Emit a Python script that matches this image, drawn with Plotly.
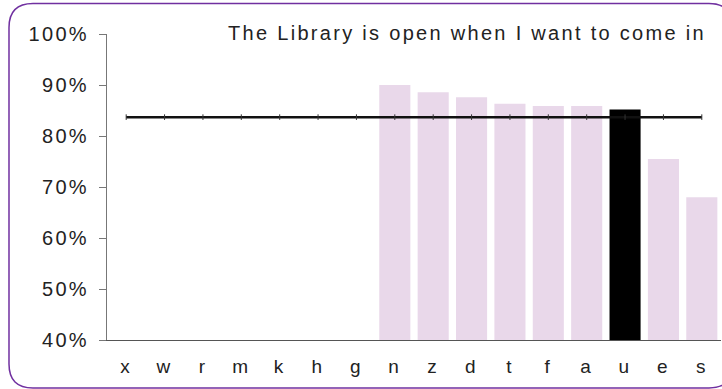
import plotly.graph_objects as go

# Survey item: share of positive responses per library branch
categories = ["x", "w", "r", "m", "k", "h", "g", "n", "z", "d", "t", "f", "a", "u", "e", "s"]
scores = [None, None, None, None, None, None, None,
          0.900, 0.886, 0.876, 0.863, 0.859, 0.859, 0.852, 0.755, 0.680]
highlight = "u"
benchmark = 0.837
y_ticks = [0.4, 0.5, 0.6, 0.7, 0.8, 0.9, 1.0]
title_text = "The Library is open when I want to come in"

W, H = 722, 389
L, R, T, B = 107, 1, 34, 49
PW, PH = W - L - R, H - T - B

FONT = "Liberation Sans, Arial, sans-serif"
TXT = "#222222"
PINK = "#e9d8ea"


def spaced(s, ls=2.3):
    return f'<span style="letter-spacing:{ls}px">{s}</span>'


def px(x):
    return (x - L) / PW


def py(y):
    return (T + PH - y) / PH


bar_colors = ["#000000" if c == highlight else PINK for c in categories]

fig = go.Figure()
fig.add_trace(go.Bar(
    x=categories, y=scores, marker=dict(color=bar_colors, line=dict(width=0)),
    hoverinfo="skip",
))
fig.add_trace(go.Scatter(
    x=categories, y=[benchmark] * len(categories), mode="lines+markers",
    line=dict(color="#111111", width=2.5),
    marker=dict(symbol="line-ns", size=4, line=dict(color="#333333", width=1)),
    hoverinfo="skip",
))

# rounded frame around the whole chart
left, top, right, bottom, rad = 9, 3.5, 733, 388, 24
pts = [
    ("M", (left + rad, top)), ("L", (right - rad, top)),
    ("Q", (right, top), (right, top + rad)), ("L", (right, bottom - rad)),
    ("Q", (right, bottom), (right - rad, bottom)), ("L", (left + rad, bottom)),
    ("Q", (left, bottom), (left, bottom - rad)), ("L", (left, top + rad)),
    ("Q", (left, top), (left + rad, top)),
]
path = ""
for cmd, *coords in pts:
    path += cmd + " " + " ".join(f"{px(a):.5f},{py(b):.5f}" for a, b in coords) + " "
path += "Z"

fig.update_layout(
    width=W, height=H,
    margin=dict(l=L, r=R, t=T, b=B, pad=0),
    paper_bgcolor="white", plot_bgcolor="white",
    showlegend=False, hovermode=False,
    bargap=0.19,
    font=dict(family=FONT, size=20, color=TXT),
    xaxis=dict(
        type="category", range=[-0.5, len(categories) - 0.5],
        showline=True, linecolor="#555555", linewidth=1,
        ticks="", showgrid=False, zeroline=False,
        tickvals=categories, ticktext=[spaced(c) for c in categories],
        tickfont=dict(family=FONT, size=19, color=TXT),
        ticklabelstandoff=9,
    ),
    yaxis=dict(
        range=[y_ticks[0], y_ticks[-1]],
        showline=True, linecolor="#777777", linewidth=1.2,
        ticks="outside", ticklen=7, tickcolor="#777777", tickwidth=1.2,
        showgrid=False, zeroline=False,
        tickvals=y_ticks, ticktext=[spaced(f"{v:.0%}") for v in y_ticks],
        tickfont=dict(family=FONT, size=20, color=TXT),
        ticklabelstandoff=6,
    ),
    shapes=[dict(type="path", xref="paper", yref="paper", path=path,
                 line=dict(color="#7030a0", width=1.5), fillcolor="rgba(0,0,0,0)",
                 layer="above")],
    annotations=[dict(
        text=spaced(title_text), xref="paper", yref="paper",
        x=px(708), y=py(33), xanchor="right", yanchor="middle",
        showarrow=False, font=dict(family=FONT, size=20, color=TXT),
    )],
)

fig.write_html("out.html")
